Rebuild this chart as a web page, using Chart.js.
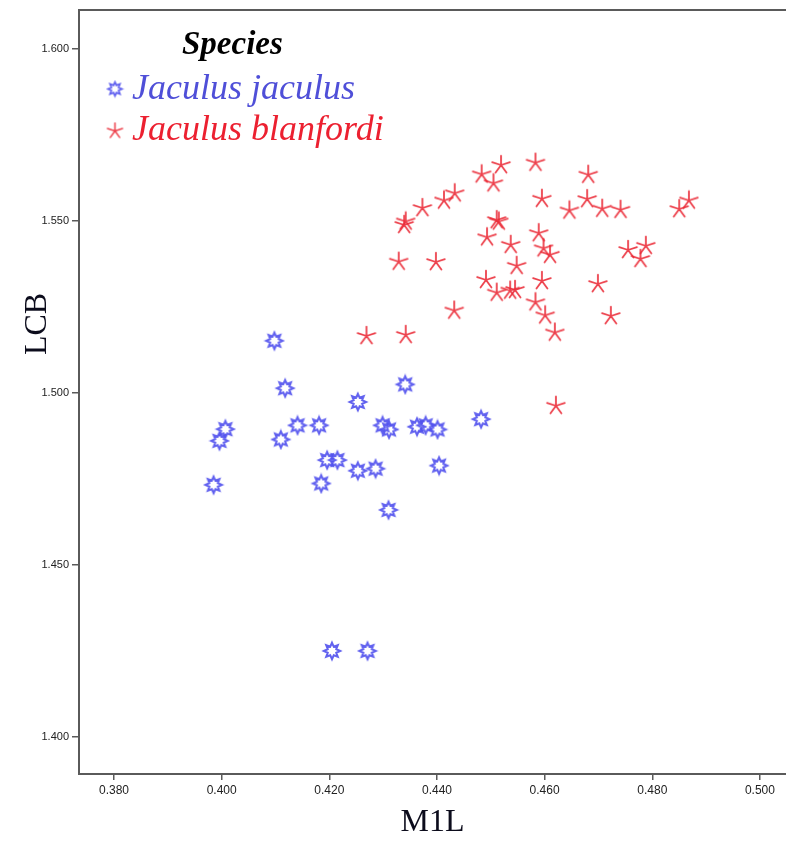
<!DOCTYPE html>
<html lang="en">

<head>
    <meta charset="UTF-8">
    <title>LCB vs M1L - Jaculus</title>
    <script src="https://cdn.jsdelivr.net/npm/chart.js"></script>
    <style>
        body { margin: 0; background: #fff; overflow: hidden; }
        #wrap { position: relative; width: 786px; height: 842px; }
    </style>
</head>

<body>
    <div id="wrap">
        <canvas id="scatterChart" width="786" height="842"></canvas>
    </div>

    <script>
        // values
        const seriesNames = ['Jaculus jaculus', 'Jaculus blanfordi'];
        const legendTitle = 'Species';
        const xTitle = 'M1L';
        const yTitle = 'LCB';

        const xTicks = [0.380, 0.400, 0.420, 0.440, 0.460, 0.480, 0.500];
        const yTicks = [1.400, 1.450, 1.500, 1.550, 1.600];

        const jaculusX = [0.4098, 0.4118, 0.4341, 0.4253, 0.4007, 0.3996, 0.4141, 0.4181, 0.4110, 0.4299,
            0.4311, 0.4363, 0.4379, 0.4401, 0.4482, 0.4196, 0.4215, 0.4253, 0.4286, 0.4404,
            0.4185, 0.3985, 0.4310, 0.4205, 0.4271];
        const jaculusY = [1.5151, 1.5013, 1.5024, 1.4973, 1.4894, 1.4860, 1.4905, 1.4905, 1.4864, 1.4905,
            1.4893, 1.4901, 1.4905, 1.4893, 1.4923, 1.4804, 1.4804, 1.4773, 1.4779, 1.4788,
            1.4736, 1.4732, 1.4659, 1.4249, 1.4249];

        const blanfordiX = [0.4269, 0.4342, 0.4329, 0.4342, 0.4339, 0.4373, 0.4413, 0.4433, 0.4398, 0.4432,
            0.4483, 0.4519, 0.4505, 0.4511, 0.4515, 0.4493, 0.4537, 0.4548, 0.4491, 0.4511,
            0.4536, 0.4545, 0.4583, 0.4595, 0.4589, 0.4598, 0.4610, 0.4595, 0.4583, 0.4601,
            0.4619, 0.4621, 0.4681, 0.4679, 0.4646, 0.4707, 0.4741, 0.4850, 0.4868, 0.4755,
            0.4788, 0.4778, 0.4699, 0.4723];
        const blanfordiY = [1.5165, 1.5168, 1.5381, 1.5498, 1.5488, 1.5537, 1.5559, 1.5580, 1.5380, 1.5239,
            1.5635, 1.5662, 1.5609, 1.5502, 1.5498, 1.5452, 1.5430, 1.5369, 1.5328, 1.5291,
            1.5297, 1.5299, 1.5669, 1.5564, 1.5464, 1.5420, 1.5401, 1.5325, 1.5263, 1.5225,
            1.5175, 1.4962, 1.5634, 1.5563, 1.5530, 1.5535, 1.5532, 1.5534, 1.5559, 1.5415,
            1.5427, 1.5389, 1.5316, 1.5223];

        const blue = 'rgba(82, 82, 238, 0.92)';
        const red = 'rgba(234, 40, 52, 0.88)';
        const blueText = '#4f4fd8';
        const redText = '#ec2030';

        // 8 point hollow star
        function makeStar(scale) {
            const c = document.createElement('canvas');
            const s = Math.ceil(22 * scale);
            c.width = s; c.height = s;
            const g = c.getContext('2d');
            g.translate(s / 2, s / 2);
            g.scale(scale, scale);
            g.beginPath();
            for (let i = 0; i < 16; i++) {
                const r = i % 2 === 0 ? 8.2 : 4.6;
                const a = -Math.PI / 2 + i * Math.PI / 8;
                if (i === 0) g.moveTo(r * Math.cos(a), r * Math.sin(a));
                else g.lineTo(r * Math.cos(a), r * Math.sin(a));
            }
            g.closePath();
            g.lineWidth = 2;
            g.strokeStyle = blue;
            g.stroke();
            return c;
        }

        // 5 arm asterisk
        function makeAsterisk(scale) {
            const c = document.createElement('canvas');
            const s = Math.ceil(22 * scale);
            c.width = s; c.height = s;
            const g = c.getContext('2d');
            g.translate(s / 2, s / 2);
            g.scale(scale, scale);
            g.beginPath();
            for (let i = 0; i < 5; i++) {
                const a = -Math.PI / 2 + i * 2 * Math.PI / 5;
                g.moveTo(0, 0);
                g.lineTo(9.3 * Math.cos(a), 9.3 * Math.sin(a));
            }
            g.lineWidth = 1.8;
            g.lineCap = 'round';
            g.strokeStyle = red;
            g.stroke();
            return c;
        }

        const starImg = makeStar(1);
        const astImg = makeAsterisk(1);
        const starSmall = makeStar(0.85);
        const astSmall = makeAsterisk(0.85);

        const toPoints = (xs, ys) => xs.map((x, i) => ({ x: x, y: ys[i] }));

        // frame top line, legend and y title
        const decorations = {
            id: 'decorations',
            afterDraw(chart) {
                const ctx = chart.ctx;
                const area = chart.chartArea;
                ctx.save();
                ctx.strokeStyle = '#5a5a5a';
                ctx.lineWidth = 2;
                ctx.beginPath();
                ctx.moveTo(area.left - 1, area.top);
                ctx.lineTo(chart.width, area.top);
                ctx.stroke();

                ctx.textBaseline = 'middle';
                ctx.textAlign = 'left';
                ctx.fillStyle = '#000';
                ctx.font = 'italic bold 33px "Liberation Serif", serif';
                ctx.fillText(legendTitle, 182, 45);

                ctx.drawImage(starSmall, 115 - starSmall.width / 2, 89 - starSmall.height / 2);
                ctx.drawImage(astSmall, 115 - astSmall.width / 2, 131 - astSmall.height / 2);
                ctx.font = 'italic 36px "Liberation Serif", serif';
                ctx.fillStyle = blueText;
                ctx.fillText(seriesNames[0], 132, 90);
                ctx.fillStyle = redText;
                ctx.fillText(seriesNames[1], 132, 131);

                ctx.fillStyle = '#0c0c1c';
                ctx.font = '32px "Liberation Serif", serif';
                ctx.textAlign = 'center';
                ctx.translate(38, 324);
                ctx.rotate(-Math.PI / 2);
                ctx.fillText(yTitle, 0, 0);
                ctx.restore();
            }
        };

        new Chart(document.getElementById('scatterChart').getContext('2d'), {
            type: 'scatter',
            data: {
                datasets: [
                    {
                        label: seriesNames[0],
                        data: toPoints(jaculusX, jaculusY),
                        pointStyle: starImg,
                        pointRadius: 8,
                        pointHoverRadius: 8
                    },
                    {
                        label: seriesNames[1],
                        data: toPoints(blanfordiX, blanfordiY),
                        pointStyle: astImg,
                        pointRadius: 8,
                        pointHoverRadius: 8
                    }
                ]
            },
            options: {
                responsive: false,
                animation: false,
                layout: { autoPadding: false, padding: { top: 10, right: 0, left: 0, bottom: 0 } },
                plugins: {
                    legend: { display: false },
                    tooltip: { enabled: false }
                },
                scales: {
                    x: {
                        type: 'linear',
                        min: 0.3735,
                        max: 0.50484,
                        afterBuildTicks: (scale) => { scale.ticks = xTicks.map(v => ({ value: v })); },
                        afterFit: (scale) => { scale.height = 68; },
                        title: {
                            display: true,
                            text: xTitle,
                            color: '#0c0c1c',
                            font: { family: '"Liberation Serif", serif', size: 32 },
                            padding: { top: 4, bottom: 0 }
                        },
                        ticks: {
                            font: { family: '"Liberation Sans", Arial, sans-serif', size: 12 },
                            color: '#222',
                            padding: 3,
                            maxRotation: 0,
                            callback: (v) => v.toFixed(3)
                        },
                        grid: { drawOnChartArea: false, drawTicks: true, tickLength: 6, color: '#5a5a5a', lineWidth: 1.5 },
                        border: { display: true, color: '#5a5a5a', width: 2 }
                    },
                    y: {
                        type: 'linear',
                        min: 1.3891,
                        max: 1.6113,
                        afterBuildTicks: (scale) => { scale.ticks = yTicks.map(v => ({ value: v })); },
                        afterFit: (scale) => { scale.width = 79; },
                        ticks: {
                            font: { family: '"Liberation Sans", Arial, sans-serif', size: 11 },
                            color: '#222',
                            padding: 3,
                            callback: (v) => v.toFixed(3)
                        },
                        grid: { drawOnChartArea: false, drawTicks: true, tickLength: 7, color: '#5a5a5a', lineWidth: 1.5 },
                        border: { display: true, color: '#5a5a5a', width: 2 }
                    }
                }
            },
            plugins: [decorations]
        });
    </script>
</body>

</html>
